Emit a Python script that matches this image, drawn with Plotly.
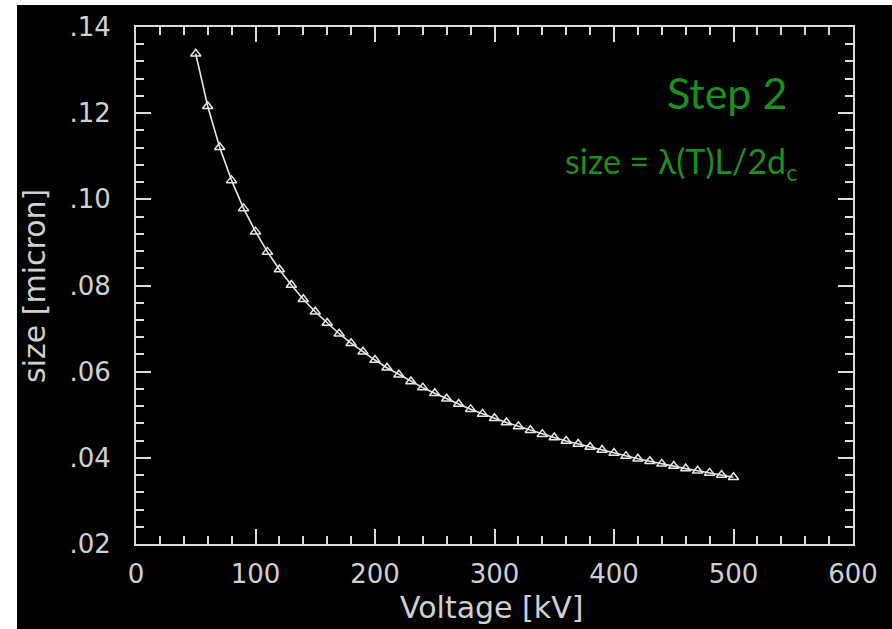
import plotly.graph_objects as go

# Data
voltage_kv = [50, 60, 70, 80, 90, 100, 110, 120, 130, 140, 150, 160, 170, 180, 190,
              200, 210, 220, 230, 240, 250, 260, 270, 280, 290, 300, 310, 320, 330,
              340, 350, 360, 370, 380, 390, 400, 410, 420, 430, 440, 450, 460, 470,
              480, 490, 500]
size_micron = [0.1338, 0.1216, 0.1121, 0.1044, 0.0979, 0.0925, 0.0878, 0.0837,
               0.0801, 0.0768, 0.0739, 0.0713, 0.0688, 0.0666, 0.0646, 0.0627,
               0.0609, 0.0593, 0.0577, 0.0563, 0.0550, 0.0537, 0.0525, 0.0513,
               0.0502, 0.0492, 0.0482, 0.0473, 0.0464, 0.0455, 0.0447, 0.0439,
               0.0432, 0.0425, 0.0418, 0.0411, 0.0404, 0.0398, 0.0392, 0.0386,
               0.0381, 0.0375, 0.0370, 0.0365, 0.0360, 0.0355]

x_tickvals = [0, 100, 200, 300, 400, 500, 600]
x_ticktext = ["0", "100", "200", "300", "400", "500", "600"]
y_tickvals = [0.02, 0.04, 0.06, 0.08, 0.10, 0.12, 0.14]
y_ticktext = [".02", ".04", ".06", ".08", ".10", ".12", ".14"]

W, H = 892, 629
L, R, T, B = 136, 39, 27, 85
pw, ph = W - L - R, H - T - B


def px(xp):
    return (xp - L) / pw


def py(yp):
    return (H - B - yp) / ph


fg = "#dcdcdc"
txt = "#d0d0d0"
tickfont = dict(family="DejaVu Sans", size=26, color=txt)
green = "#1e8f1e"

fig = go.Figure()
fig.add_trace(go.Scatter(
    x=voltage_kv, y=size_micron, mode="lines+markers",
    line=dict(color="#e6e6e6", width=1.6),
    marker=dict(symbol="triangle-up-open", size=9, color="#e6e6e6",
                line=dict(width=1.5, color="#e6e6e6")),
    showlegend=False, hoverinfo="x+y"))

axis_common = dict(showgrid=False, zeroline=False, showline=True, mirror="ticks",
                   linecolor=fg, linewidth=2, ticks="inside", tickcolor=fg,
                   tickwidth=2, ticklen=15, tickfont=tickfont)

fig.update_xaxes(range=[0, 600], tickvals=x_tickvals, ticktext=x_ticktext,
                 ticklabelstandoff=6,
                 minor=dict(ticks="inside", dtick=20, ticklen=8, tickwidth=2,
                            tickcolor=fg, showgrid=False),
                 **axis_common)
fig.update_yaxes(range=[0.02, 0.14], tickvals=y_tickvals, ticktext=y_ticktext,
                 ticklabelstandoff=18,
                 minor=dict(ticks="inside", dtick=0.004, tick0=0.02, ticklen=8,
                            tickwidth=2, tickcolor=fg, showgrid=False),
                 **axis_common)

annotations = [
    dict(text="Voltage [kV]", x=px(491), y=py(607), xref="paper", yref="paper",
         showarrow=False, xanchor="center", yanchor="middle",
         font=dict(family="DejaVu Sans", size=30, color=txt)),
    dict(text="size [micron]", x=px(34), y=py(286), xref="paper", yref="paper",
         showarrow=False, xanchor="center", yanchor="middle", textangle=-90,
         font=dict(family="DejaVu Sans", size=30, color=txt)),
    dict(text="Step 2", x=px(727), y=py(93), xref="paper", yref="paper",
         showarrow=False, xanchor="center", yanchor="middle",
         font=dict(family="Lato", size=43, color=green)),
    dict(text="size = λ(T)L/2d<sub>c</sub>", x=px(681), y=py(163), xref="paper",
         yref="paper", showarrow=False, xanchor="center", yanchor="middle",
         font=dict(family="Lato", size=34, color=green)),
]

shapes = [
    dict(type="rect", xref="paper", yref="paper", x0=px(-2), x1=px(17),
         y0=py(H + 2), y1=py(-2), fillcolor="white", line=dict(width=0),
         layer="above"),
    dict(type="rect", xref="paper", yref="paper", x0=px(-2), x1=px(W + 2),
         y0=py(5), y1=py(-2), fillcolor="white", line=dict(width=0),
         layer="above"),
]

fig.update_layout(width=W, height=H, margin=dict(l=L, r=R, t=T, b=B),
                  paper_bgcolor="black", plot_bgcolor="black",
                  annotations=annotations, shapes=shapes)

fig.write_html("out.html",
               config={"displayModeBar": False},
               post_script="document.body.style.margin='0';"
                           "document.body.style.overflow='hidden';")
